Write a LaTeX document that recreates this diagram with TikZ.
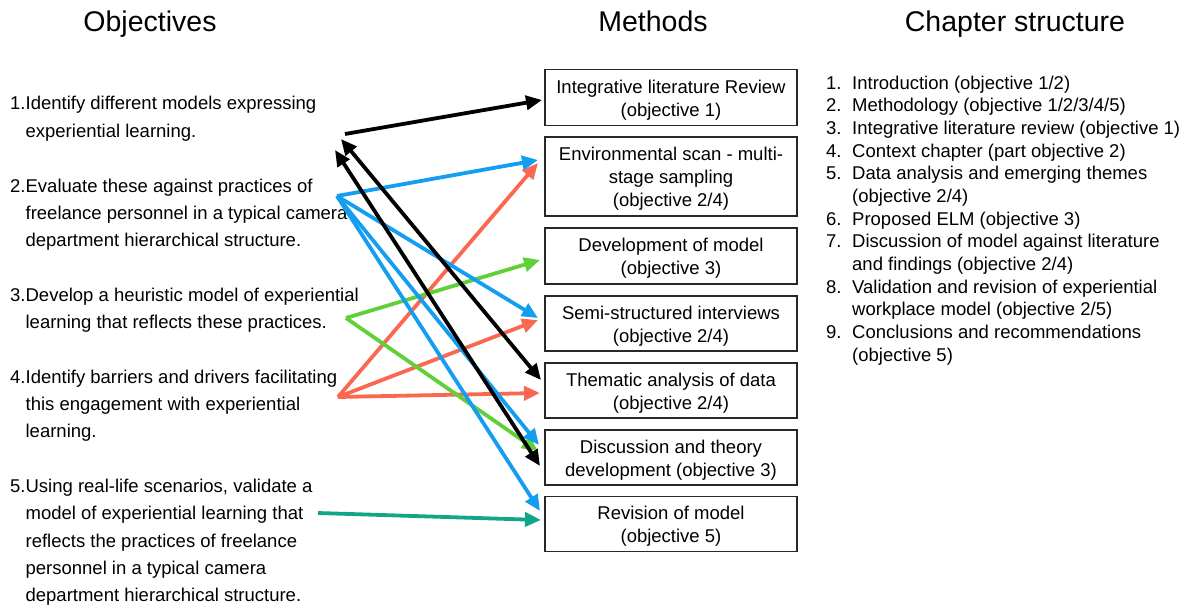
\documentclass[tikz,border=0pt]{standalone}
\usepackage{fontspec}
\setmainfont{Liberation Sans}
\usetikzlibrary{arrows.meta}
\definecolor{cblue}{RGB}{20,158,242}
\definecolor{cgreen}{RGB}{96,208,56}
\definecolor{cred}{RGB}{250,104,82}
\definecolor{cteal}{RGB}{18,166,136}
\definecolor{cbox}{RGB}{40,40,40}
\newcommand{\topstrut}{\rule{0pt}{18.5pt}}
\tikzset{
  title/.style={anchor=base, inner sep=0pt, font=\fontsize{28.5}{34}\selectfont},
  objtext/.style={anchor=base west, inner sep=0pt, font=\fontsize{18.5}{27.33}\selectfont},
  listtext/.style={anchor=base west, inner sep=0pt, font=\fontsize{18.5}{22.7}\selectfont},
  methodbox/.style={draw=cbox, line width=1.4pt, minimum width=252pt, align=center,
    inner sep=0pt, font=\fontsize{18.5}{23}\selectfont},
  conn/.style={line width=3.8pt, -{Triangle[length=16pt,width=14pt]}},
  bconn/.style={line width=3.8pt, {Triangle[length=16pt,width=14pt]}-{Triangle[length=16pt,width=14pt]}}
}
\begin{document}
\begin{tikzpicture}[x=1pt,y=-1pt]
\useasboundingbox (0,0) rectangle (1195,610);
% titles
\node[title] (tobj) at (150,32) {Objectives};
\node[title] (tmeth) at (653,32) {Methods};
\node[title] (tchap) at (1015,32) {Chapter structure};
% objectives
\node[objtext] (ob1) at (10,110) {\begin{tabular}[t]{@{}l@{}l@{}}1.&Identify different models expressing\\&experiential learning.\end{tabular}};
\node[objtext] (ob2) at (10,192) {\begin{tabular}[t]{@{}l@{}l@{}}2.&Evaluate these against practices of\\&freelance personnel in a typical camera\\&department hierarchical structure.\end{tabular}};
\node[objtext] (ob3) at (10,301.3) {\begin{tabular}[t]{@{}l@{}l@{}}3.&Develop a heuristic model of experiential\\&learning that reflects these practices.\end{tabular}};
\node[objtext] (ob4) at (10,383.3) {\begin{tabular}[t]{@{}l@{}l@{}}4.&Identify barriers and drivers facilitating\\&this engagement with experiential\\&learning.\end{tabular}};
\node[objtext] (ob5) at (10,492.6) {\begin{tabular}[t]{@{}l@{}l@{}}5.&Using real-life scenarios, validate a\\&model of experiential learning that\\&reflects the practices of freelance\\&personnel in a typical camera\\&department hierarchical structure.\end{tabular}};
% methods boxes
\node[methodbox, minimum height=56pt] (m1) at (671,97.5) {\topstrut Integrative literature Review\\(objective 1)};
\node[methodbox, minimum height=79pt] (m2) at (671,176.5) {\topstrut Environmental scan - multi-\\stage sampling\\(objective 2/4)};
\node[methodbox, minimum height=56pt] (m3) at (671,256) {\topstrut Development of model\\(objective 3)};
\node[methodbox, minimum height=55pt] (m4) at (671,323.5) {\topstrut Semi-structured interviews\\(objective 2/4)};
\node[methodbox, minimum height=55pt] (m5) at (671,390.5) {\topstrut Thematic analysis of data\\(objective 2/4)};
\node[methodbox, minimum height=55pt] (m6) at (671,457.5) {\topstrut Discussion and theory\\development (objective 3)};
\node[methodbox, minimum height=55pt] (m7) at (671,524) {\topstrut Revision of model\\(objective 5)};
% chapter structure
\node[listtext] (chap) at (826,89) {\begin{tabular}[t]{@{}l@{}l@{}}
\makebox[26pt][l]{1.}&Introduction (objective 1/2)\\
\makebox[26pt][l]{2.}&Methodology (objective 1/2/3/4/5)\\
\makebox[26pt][l]{3.}&Integrative literature review (objective 1)\\
\makebox[26pt][l]{4.}&Context chapter (part objective 2)\\
\makebox[26pt][l]{5.}&Data analysis and emerging themes\\
&(objective 2/4)\\
\makebox[26pt][l]{6.}&Proposed ELM (objective 3)\\
\makebox[26pt][l]{7.}&Discussion of model against literature\\
&and findings (objective 2/4)\\
\makebox[26pt][l]{8.}&Validation and revision of experiential\\
&workplace model (objective 2/5)\\
\makebox[26pt][l]{9.}&Conclusions and recommendations\\
&(objective 5)
\end{tabular}};
% connector end points
\coordinate (s1) at (345,134);
\coordinate (s1a) at (341,139);
\coordinate (s1b) at (335,150);
\coordinate (s2) at (337,196);
\coordinate (s3) at (346,318);
\coordinate (s4) at (338,397);
\coordinate (s5) at (318,513);
\coordinate (e1) at (542,100);
\coordinate (e2b) at (538,160);
\coordinate (e2r) at (538,163);
\coordinate (e3) at (540,260);
\coordinate (e4b) at (538,318);
\coordinate (e4r) at (538,320);
\coordinate (e5k) at (541,380);
\coordinate (e5r) at (540,393);
\coordinate (e6b) at (539,445);
\coordinate (e6g) at (538,451);
\coordinate (e6k) at (540,466);
\coordinate (e7b) at (540,511);
\coordinate (e7t) at (541,520);
% connectors
\draw[conn, cred] (s4) -- (e2r);
\draw[conn, cred] (s4) -- (e4r);
\draw[conn, cred] (s4) -- (e5r);
\draw[conn, cgreen] (s3) -- (e3);
\draw[conn, cgreen] (s3) -- (e6g);
\draw[conn, cblue] (s2) -- (e2b);
\draw[conn, cblue] (s2) -- (e4b);
\draw[conn, cblue] (s2) -- (e6b);
\draw[conn, cblue] (s2) -- (e7b);
\draw[conn, cteal] (s5) -- (e7t);
\draw[conn, black] (s1) -- (e1);
\draw[bconn, black] (s1a) -- (e5k);
\draw[bconn, black] (s1b) -- (e6k);
\end{tikzpicture}
\end{document}
